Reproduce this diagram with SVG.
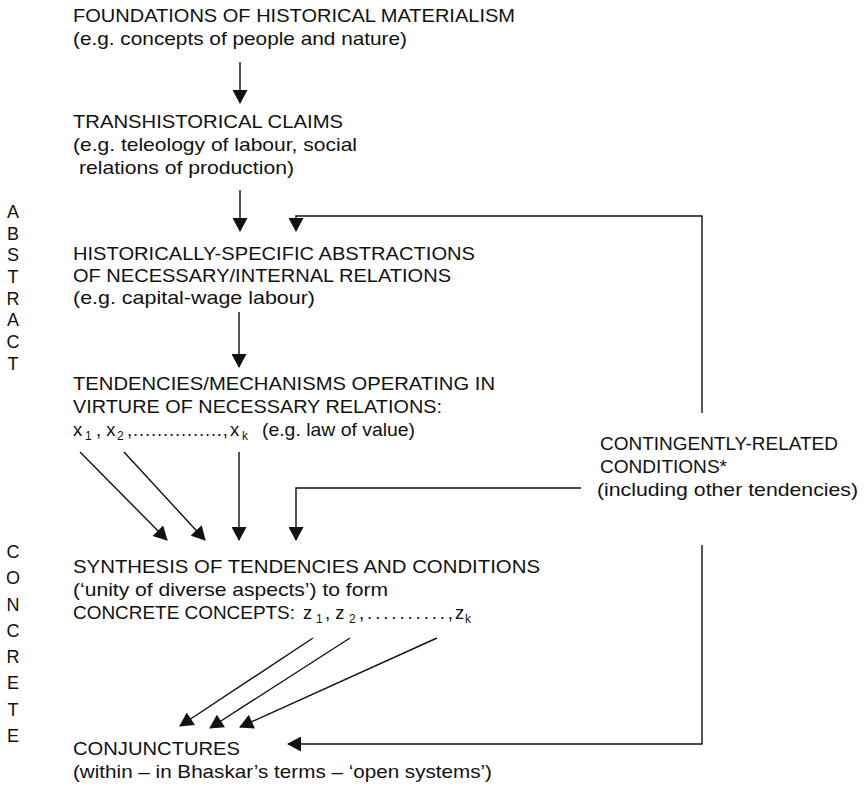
<svg xmlns="http://www.w3.org/2000/svg" width="867" height="792" viewBox="0 0 867 792">
  <style>
    text { font-family: "Liberation Sans", Arial, Helvetica, sans-serif; font-size: 18.5px; fill: #111; }
    .sub { font-size: 12px; }
    .col { font-size: 18px; text-anchor: middle; }
    .wire { fill: none; stroke: #111; stroke-width: 1.4; }
  </style>
  <defs>
    <marker id="head" markerUnits="userSpaceOnUse" markerWidth="15" markerHeight="15" viewBox="0 0 14 15" refX="13" refY="7.5" orient="auto">
      <path d="M0,0 L14,7.5 L0,15 Z" fill="#111"/>
    </marker>
  </defs>

  <rect width="867" height="792" fill="#fff"/>

  <!-- side labels -->
  <g id="label-abstract">
    <text class="col" x="13" y="218">A</text>
    <text class="col" x="13" y="240">B</text>
    <text class="col" x="13" y="261">S</text>
    <text class="col" x="13" y="283">T</text>
    <text class="col" x="13" y="305">R</text>
    <text class="col" x="13" y="326">A</text>
    <text class="col" x="13" y="348">C</text>
    <text class="col" x="13" y="370">T</text>
  </g>
  <g id="label-concrete">
    <text class="col" x="13" y="558">C</text>
    <text class="col" x="13" y="584">O</text>
    <text class="col" x="13" y="611">N</text>
    <text class="col" x="13" y="637">C</text>
    <text class="col" x="13" y="663">R</text>
    <text class="col" x="13" y="689">E</text>
    <text class="col" x="13" y="716">T</text>
    <text class="col" x="13" y="742">E</text>
  </g>

  <!-- nodes -->
  <g id="foundations">
    <text x="73" y="22" textLength="442" lengthAdjust="spacingAndGlyphs">FOUNDATIONS OF HISTORICAL MATERIALISM</text>
    <text x="73" y="45" textLength="334" lengthAdjust="spacingAndGlyphs">(e.g. concepts of people and nature)</text>
  </g>

  <g id="transhistorical">
    <text x="73" y="128" textLength="270" lengthAdjust="spacingAndGlyphs">TRANSHISTORICAL CLAIMS</text>
    <text x="73" y="151" textLength="284" lengthAdjust="spacingAndGlyphs">(e.g. teleology of labour, social</text>
    <text x="79" y="174" textLength="215" lengthAdjust="spacingAndGlyphs">relations of production)</text>
  </g>

  <g id="historical">
    <text x="73" y="260" textLength="402" lengthAdjust="spacingAndGlyphs">HISTORICALLY-SPECIFIC ABSTRACTIONS</text>
    <text x="73" y="282" textLength="378" lengthAdjust="spacingAndGlyphs">OF NECESSARY/INTERNAL RELATIONS</text>
    <text x="73" y="304" textLength="242" lengthAdjust="spacingAndGlyphs">(e.g. capital-wage labour)</text>
  </g>

  <g id="tendencies">
    <text x="73" y="390" textLength="422" lengthAdjust="spacingAndGlyphs">TENDENCIES/MECHANISMS OPERATING IN</text>
    <text x="73" y="413" textLength="369" lengthAdjust="spacingAndGlyphs">VIRTURE OF NECESSARY RELATIONS:</text>
    <text x="73" y="436">x</text>
    <text class="sub" x="85" y="440">1</text>
    <text x="96" y="436">, x</text>
    <text class="sub" x="117" y="440">2</text>
    <text x="127" y="436" textLength="101" lengthAdjust="spacing">,...............,</text>
    <text x="230" y="436">x</text>
    <text class="sub" x="242" y="440">k</text>
    <text x="262" y="436" textLength="153" lengthAdjust="spacingAndGlyphs">(e.g. law of value)</text>
  </g>

  <g id="contingent">
    <text x="600" y="450" textLength="238" lengthAdjust="spacingAndGlyphs">CONTINGENTLY-RELATED</text>
    <text x="600" y="473" textLength="127" lengthAdjust="spacingAndGlyphs">CONDITIONS*</text>
    <text x="597" y="496" textLength="261" lengthAdjust="spacingAndGlyphs">(including other tendencies)</text>
  </g>

  <g id="synthesis">
    <text x="73" y="573" textLength="467" lengthAdjust="spacingAndGlyphs">SYNTHESIS OF TENDENCIES AND CONDITIONS</text>
    <text x="73" y="596" textLength="315" lengthAdjust="spacingAndGlyphs">(‘unity of diverse aspects’) to form</text>
    <text x="73" y="619" textLength="222" lengthAdjust="spacingAndGlyphs">CONCRETE CONCEPTS:</text>
    <text x="303" y="619">z</text>
    <text class="sub" x="316" y="623">1</text>
    <text x="325" y="619">, z</text>
    <text class="sub" x="349" y="623">2</text>
    <text x="359" y="619" textLength="94" lengthAdjust="spacing">,..........,</text>
    <text x="455" y="619">z</text>
    <text class="sub" x="465" y="623">k</text>
  </g>

  <g id="conjunctures">
    <text x="73" y="755" textLength="167" lengthAdjust="spacingAndGlyphs">CONJUNCTURES</text>
    <text x="73" y="778" textLength="419" lengthAdjust="spacingAndGlyphs">(within – in Bhaskar’s terms – ‘open systems’)</text>
  </g>

  <!-- connectors -->
  <g id="connectors" class="wire">
    <line x1="240" y1="62" x2="240" y2="103" marker-end="url(#head)"/>
    <line x1="240" y1="190" x2="240" y2="231" marker-end="url(#head)"/>
    <polyline points="702,413 702,216 296,216 296,231" marker-end="url(#head)"/>
    <line x1="239" y1="312" x2="239" y2="367" marker-end="url(#head)"/>

    <line x1="80" y1="452" x2="167" y2="540" marker-end="url(#head)"/>
    <line x1="124" y1="452" x2="205" y2="540" marker-end="url(#head)"/>
    <line x1="239" y1="452" x2="239" y2="540" marker-end="url(#head)"/>
    <polyline points="581,488 296,488 296,540" marker-end="url(#head)"/>

    <line x1="313" y1="638" x2="180" y2="726" marker-end="url(#head)"/>
    <line x1="350" y1="638" x2="210" y2="728" marker-end="url(#head)"/>
    <line x1="437" y1="638" x2="240" y2="727" marker-end="url(#head)"/>
    <polyline points="702,545 702,744 288,744" marker-end="url(#head)"/>
  </g>
</svg>
